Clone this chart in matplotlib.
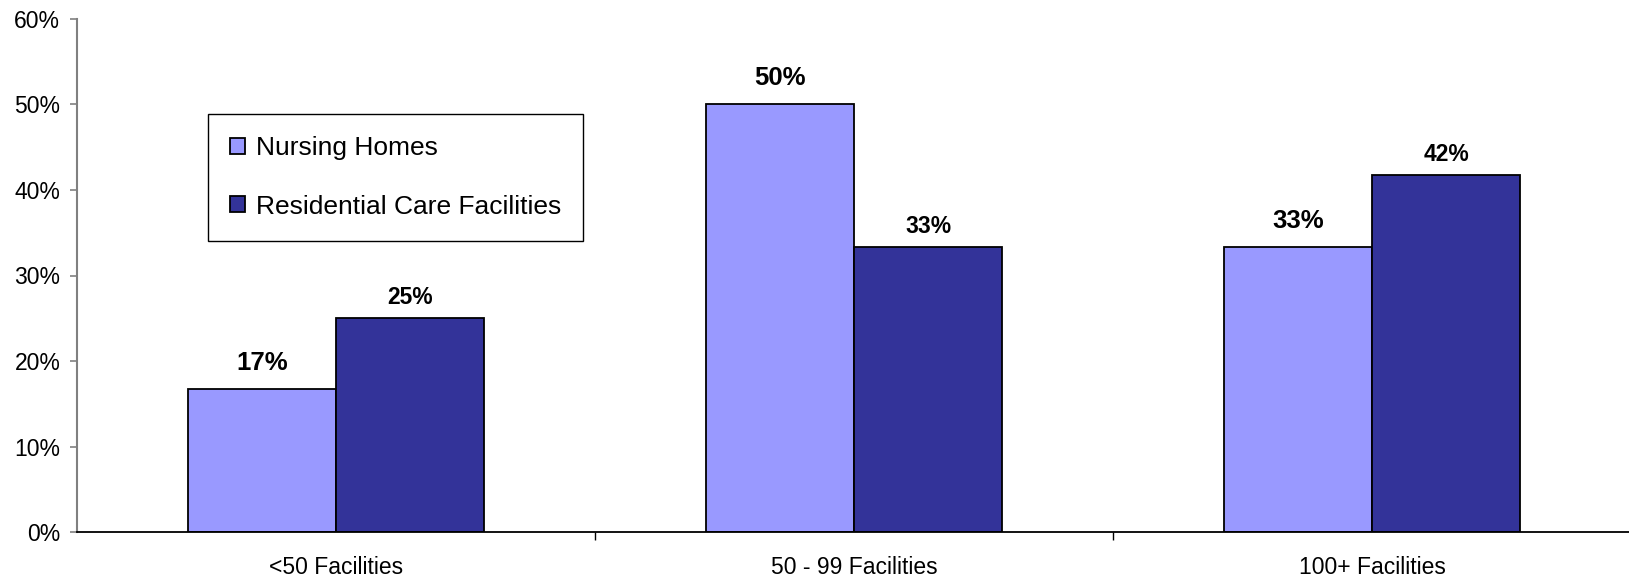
import numpy as np
import matplotlib
matplotlib.use("Agg")
import matplotlib.pyplot as plt
from matplotlib.ticker import FuncFormatter

plt.rcParams['font.family'] = ['Liberation Sans', 'DejaVu Sans']

# data
categories = ['<50 Facilities', '50 - 99 Facilities', '100+ Facilities']
series_names = ['Nursing Homes', 'Residential Care Facilities']
nursing_homes = [16.7, 50.0, 33.3]
residential_care = [25.0, 33.3, 41.7]

light = '#9999FF'
dark = '#333399'

fig = plt.figure(figsize=(16.29, 5.77), dpi=100)
ax = fig.add_axes([77 / 1629, 45 / 577, 1554 / 1629, 513 / 577])

x = np.arange(len(categories))
w = 0.286

ax.bar(x - w / 2, nursing_homes, w, color=light, edgecolor='black', linewidth=1.3,
       label=series_names[0])
ax.bar(x + w / 2, residential_care, w, color=dark, edgecolor='black', linewidth=1.3,
       label=series_names[1])

# value labels, light series drawn a bit larger like in the original
for xi, v in zip(x - w / 2, nursing_homes):
    ax.annotate(f"{round(v)}%", (xi, v), xytext=(0, 19), textcoords='offset points',
                ha='center', va='center', fontsize=18.5, fontweight='bold')
for xi, v in zip(x + w / 2, residential_care):
    ax.annotate(f"{round(v)}%", (xi, v), xytext=(0, 15), textcoords='offset points',
                ha='center', va='center', fontsize=16.5, fontweight='bold')

ax.set_xlim(-0.5, 2.5)
ax.set_ylim(0, 60)
ax.set_yticks(np.arange(0, 61, 10))
ax.yaxis.set_major_formatter(FuncFormatter(lambda v, p: f"{v:.0f}%"))
ax.tick_params(axis='y', length=5, width=1.2, color='#808080', pad=7, labelsize=16.5)

ax.set_xticks(x)
ax.set_xticklabels(categories)
ax.set_xticks([0.5, 1.5], minor=True)
ax.tick_params(axis='x', which='major', length=0, pad=17, labelsize=16.5)
ax.tick_params(axis='x', which='minor', length=6, width=1, color='black')

for s in ['top', 'right']:
    ax.spines[s].set_visible(False)
ax.spines['left'].set_color('#808080')
ax.spines['left'].set_linewidth(1.5)
ax.spines['bottom'].set_color('black')
ax.spines['bottom'].set_linewidth(1.3)

leg = ax.legend(loc='upper left', bbox_to_anchor=(208 / 1629, 1 - 114 / 577),
                bbox_transform=fig.transFigure, borderaxespad=0, fontsize=19,
                fancybox=False, framealpha=1, edgecolor='black',
                handlelength=0.55, handleheight=0.55, handletextpad=0.4,
                labelspacing=1.3, borderpad=0.85)
leg.get_frame().set_linewidth(1.0)

fig.savefig('out.png', dpi=100)
